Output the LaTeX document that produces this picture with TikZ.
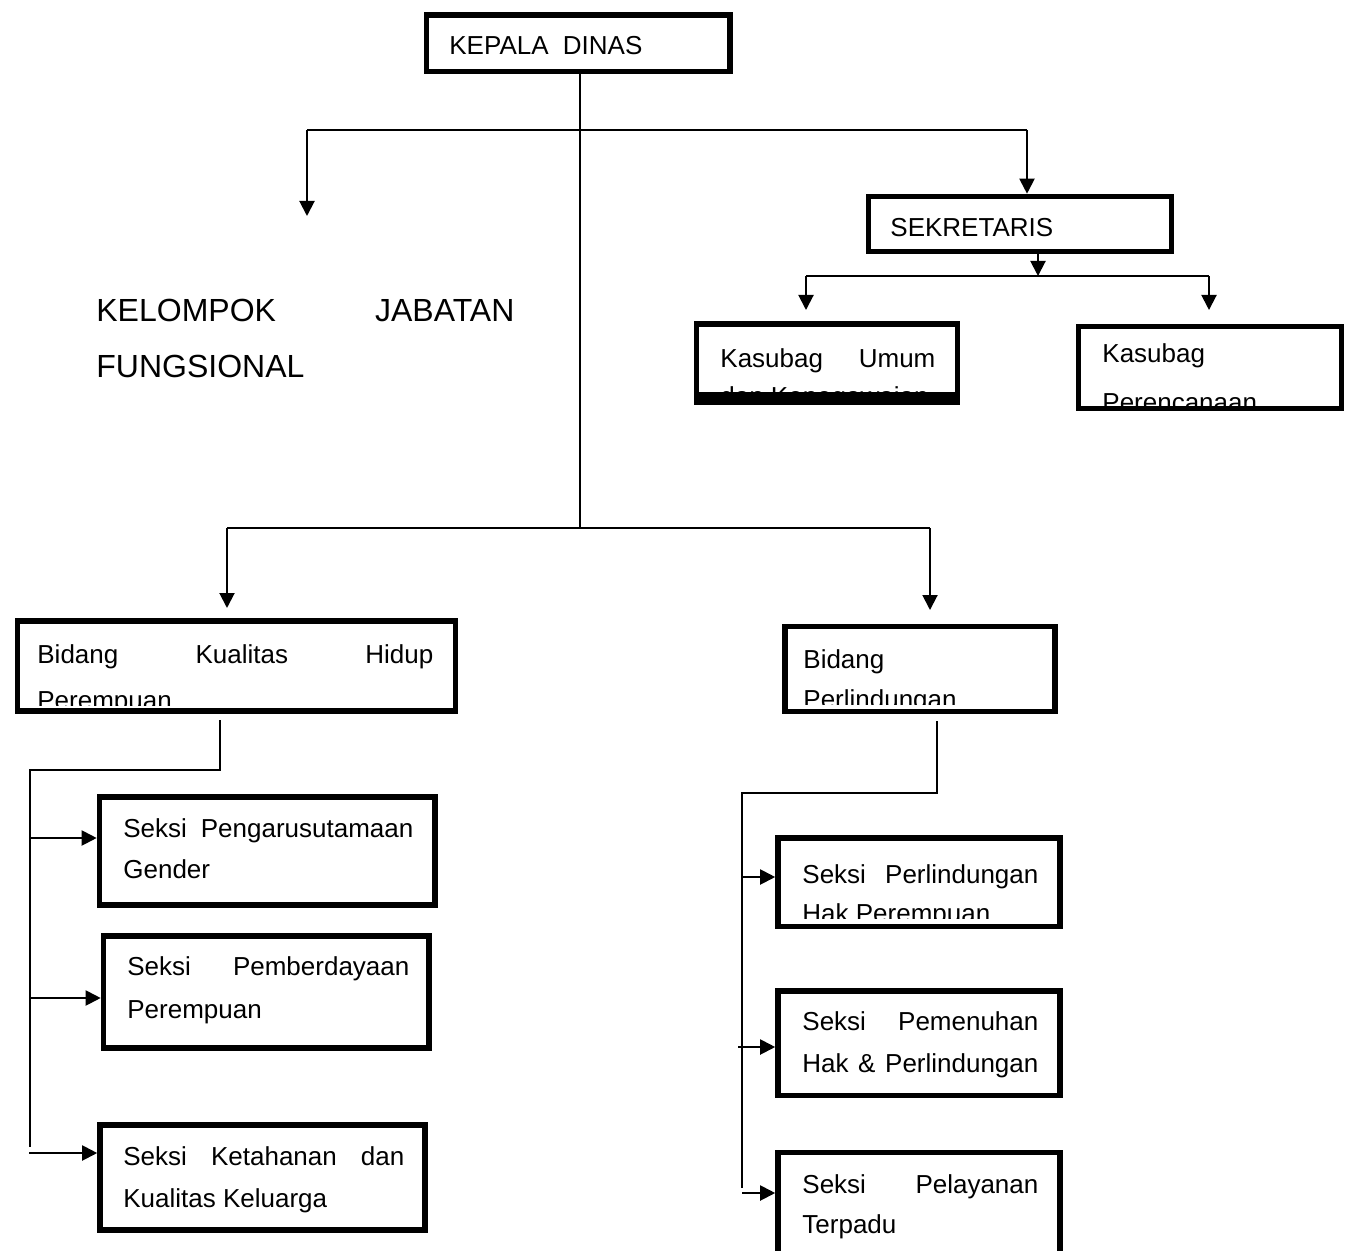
\documentclass[tikz,border=0pt]{standalone}
\usepackage{fontspec}
\setmainfont{Liberation Sans}
\usetikzlibrary{arrows.meta,fit}
% #1 name, #2 top-left, #3 bottom-right (border centre), #4 bottom-right of text frame, #5 text
\newcommand\obox[5]{%
  \begin{scope}
    \clip #2 rectangle #4;
    #5
  \end{scope}
  \node[box,fit={#2 #3}] (#1) {};
}
\begin{document}
\begin{tikzpicture}[x=0.5pt,y=-0.5pt,
  box/.style={draw,line width=2.8pt,inner sep=0pt},
  conn/.style={line width=1pt},
  arr/.style={conn,-{Triangle[width=7.5pt,length=7.5pt]}},
  lbl/.style={anchor=base west,inner sep=0pt,font=\fontsize{13}{15}\selectfont},
  big/.style={anchor=base west,inner sep=0pt,font=\fontsize{16}{19}\selectfont}]
\fill[white] (0,0) rectangle (1348,1251);
\useasboundingbox (0,0) rectangle (1348,1251);

% boxes
\obox{kd}{(426.5,15)}{(730,71.5)}{(730,71.5)}{\node[lbl] (kdt) at (449,55) {\makebox[96.5pt]{KEPALA\hfill DINAS}};}
\obox{sek}{(868.5,196.5)}{(1171.5,251.5)}{(1171.5,251.5)}{\node[lbl] (sekt) at (890,237) {SEKRETARIS};}
\obox{ku}{(696.5,324)}{(957.5,398.5)}{(957.5,392)}{%
  \node[lbl] (kut1) at (720,367) {\makebox[107.5pt]{Kasubag\hfill Umum}};
  \node[lbl] (kut2) at (720,406) {dan Kepegawaian};}
\fill ([yshift=-2pt]ku.south west) rectangle ([yshift=4.5pt]ku.south east);
\obox{kp}{(1078.5,326.5)}{(1341.5,408.5)}{(1341.5,405)}{%
  \node[lbl] (kpt1) at (1102,363) {Kasubag};
  \node[lbl] (kpt2) at (1102,411) {Perencanaan};}
\obox{bk}{(17.5,621)}{(455.5,711)}{(455.5,705)}{%
  \node[lbl] (bkt1) at (37,663) {\makebox[198pt]{Bidang\hfill Kualitas\hfill Hidup}};
  \node[lbl] (bkt2) at (37,709) {Perempuan};}
\obox{bp}{(785,626.5)}{(1055,711.5)}{(1055,704)}{%
  \node[lbl] (bpt1) at (803,668) {Bidang};
  \node[lbl] (bpt2) at (803,708) {Perlindungan};}
\obox{s1}{(99.5,797)}{(435,905)}{(435,905)}{%
  \node[lbl] (s1t1) at (123,837) {\makebox[145pt]{Seksi\hfill Pengarusutamaan}};
  \node[lbl] (s1t2) at (123,878) {Gender};}
\obox{s2}{(103.5,936)}{(429,1048)}{(429,1048)}{%
  \node[lbl] (s2t1) at (127,975) {\makebox[141pt]{Seksi\hfill Pemberdayaan}};
  \node[lbl] (s2t2) at (127,1018) {Perempuan};}
\obox{s3}{(100,1125)}{(425,1230)}{(425,1230)}{%
  \node[lbl] (s3t1) at (123,1165) {\makebox[140.5pt]{Seksi\hfill Ketahanan\hfill dan}};
  \node[lbl] (s3t2) at (123,1207) {Kualitas Keluarga};}
\obox{s4}{(778,838)}{(1060,926.5)}{(1060,918)}{%
  \node[lbl] (s4t1) at (802,883) {\makebox[118pt]{Seksi\hfill Perlindungan}};
  \node[lbl] (s4t2) at (802,922) {Hak Perempuan};}
\obox{s5}{(778,991)}{(1060,1095.5)}{(1060,1095.5)}{%
  \node[lbl] (s5t1) at (802,1030) {\makebox[118pt]{Seksi\hfill Pemenuhan}};
  \node[lbl] (s5t2) at (802,1072) {\makebox[118pt]{Hak\hfill\&\hfill Perlindungan}};}
\obox{s6}{(778,1152.5)}{(1060,1265)}{(1060,1265)}{%
  \node[lbl] (s6t1) at (802,1193) {\makebox[118pt]{Seksi\hfill Pelayanan}};
  \node[lbl] (s6t2) at (802,1233) {Terpadu};}

% free text
\node[big] (kel) at (96,322) {\makebox[209pt]{KELOMPOK\hfill JABATAN}};
\node[big] (fung) at (96,378) {FUNGSIONAL};

% top connectors
\coordinate (t1) at (307,130);
\coordinate (t2) at (1027,130);
\coordinate (kjf) at (307,216);
\draw[conn] (t1) -- (t2);
\draw[arr] (t1) -- (kjf);
\draw[arr] (t2) -- (t2 |- sek.north);

% main trunk
\coordinate (m) at (580,528);
\draw[conn] (kd.south -| m) -- (m);
\coordinate (m1) at (227,528);
\coordinate (m2) at (930,528);
\coordinate (m1e) at (227,608);
\coordinate (m2e) at (930,610);
\draw[conn] (m1) -- (m2);
\draw[arr] (m1) -- (m1e);
\draw[arr] (m2) -- (m2e);

% sekretaris branches
\coordinate (sj) at (1038,276);
\draw[arr] (sek.south -| sj) -- (sj);
\coordinate (k1) at (806,276);
\coordinate (k2) at (1209,276);
\coordinate (k1e) at (806,310);
\coordinate (k2e) at (1209,310);
\draw[conn] (k1) -- (k2);
\draw[arr] (k1) -- (k1e);
\draw[arr] (k2) -- (k2e);

% left tree
\coordinate (l0) at (220,770);
\coordinate (l1) at (30,770);
\coordinate (l2) at (30,1147);
\coordinate (lt) at (220,720);
\draw[conn] (lt) -- (l0) -- (l1) -- (l2);
\coordinate (a1) at (30,838);
\coordinate (a2) at (30,998);
\coordinate (a3) at (29,1153);
\draw[arr] (a1) -- (a1 -| s1.west);
\draw[arr] (a2) -- (a2 -| s2.west);
\draw[arr] (a3) -- (a3 -| s3.west);

% right tree
\coordinate (r0) at (937,793);
\coordinate (r1) at (742,793);
\coordinate (r2) at (742,1188);
\coordinate (rt) at (937,721);
\draw[conn] (rt) -- (r0) -- (r1) -- (r2);
\coordinate (b1) at (742,877);
\coordinate (b2) at (738,1047);
\coordinate (b3) at (742,1193);
\draw[arr] (b1) -- (b1 -| s4.west);
\draw[arr] (b2) -- (b2 -| s5.west);
\draw[arr] (b3) -- (b3 -| s6.west);
\end{tikzpicture}
\end{document}
